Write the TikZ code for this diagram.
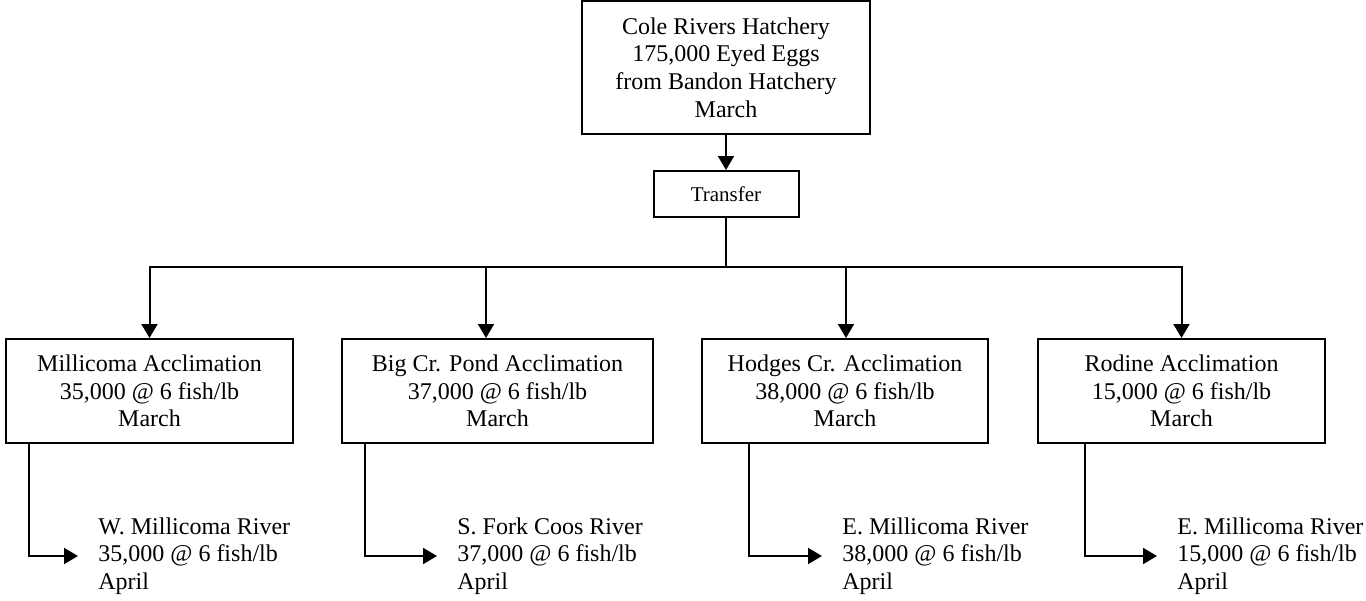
\documentclass[tikz,border=0pt]{standalone}
\usepackage{fontspec}
\setmainfont{Liberation Serif}
\usepackage{tikz}
\usetikzlibrary{arrows.meta}

\begin{document}
\begin{tikzpicture}[
    x=0.5pt, y=-0.5pt,
    box/.style={rectangle, draw=black, line width=1pt, fill=white, align=center, inner sep=0pt, font=\fontsize{12}{13.8}\selectfont},
    smallbox/.style={box, font=\fontsize{10.5}{12}\selectfont},
    river/.style={anchor=west, align=left, inner xsep=10pt, inner ysep=0pt, font=\fontsize{12}{13.8}\selectfont},
    arrow/.style={-{Triangle[length=7pt, width=8pt]}, line width=1pt, black},
    line/.style={line width=1pt, black},
]
    \useasboundingbox (0,0) rectangle (1366,600);

    \node[box, minimum width=144pt, minimum height=66.5pt] (cole) at (726,67.5) {Cole Rivers Hatchery\\175,000 Eyed Eggs\\from Bandon Hatchery\\March};
    \node[smallbox, minimum width=72.5pt, minimum height=23pt] (transfer) at (726,194) {Transfer};

    \node[box, minimum width=143.5pt, minimum height=52pt] (millicoma) at (149.5,391) {Millicoma Acclimation\\35,000 @ 6 fish/lb\\March};
    \node[box, minimum width=155.5pt, minimum height=52pt] (bigcr) at (497.5,391) {Big Cr. Pond Acclimation\\37,000 @ 6 fish/lb\\March};
    \node[box, minimum width=143pt, minimum height=52pt] (hodges) at (845,391) {Hodges Cr. Acclimation\\38,000 @ 6 fish/lb\\March};
    \node[box, minimum width=143.5pt, minimum height=52pt] (rodine) at (1181.5,391) {Rodine Acclimation\\15,000 @ 6 fish/lb\\March};

    \node[river] (wmill) at (78,556) {W. Millicoma River\\35,000 @ 6 fish/lb\\April};
    \node[river] (sfork) at (437,556) {S. Fork Coos River\\37,000 @ 6 fish/lb\\April};
    \node[river] (emill) at (822,556) {E. Millicoma River\\38,000 @ 6 fish/lb\\April};
    \node[river] (emilltwo) at (1157,556) {E. Millicoma River\\15,000 @ 6 fish/lb\\April};

    \coordinate (split) at (726,267);

    % hatchery to transfer
    \draw[arrow] (cole) -- (transfer);
    \draw[line] (transfer) -- (split);

    % out to the acclimation ponds
    \draw[arrow] (split) -| (millicoma.north);
    \draw[arrow] (split) -| ([xshift=-5.75pt]bigcr.north);
    \draw[arrow] (split) -| ([xshift=0.5pt]hodges.north);
    \draw[arrow] (split) -| (rodine.north);

    % releases
    \draw[arrow] ([xshift=12pt]millicoma.south west) |- (wmill.west);
    \draw[arrow] ([xshift=12pt]bigcr.south west) |- (sfork.west);
    \draw[arrow] ([xshift=24pt]hodges.south west) |- (emill.west);
    \draw[arrow] ([xshift=24pt]rodine.south west) |- (emilltwo.west);
\end{tikzpicture}
\end{document}
